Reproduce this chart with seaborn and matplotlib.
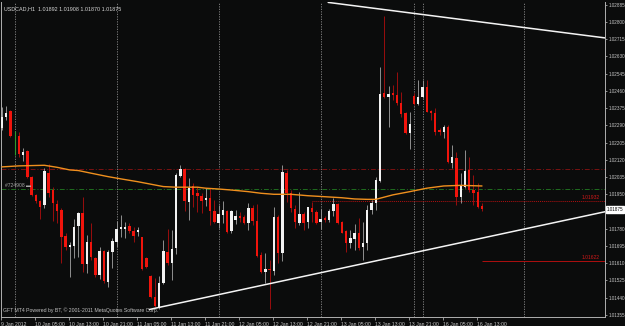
import numpy as np
import pandas as pd
import matplotlib
matplotlib.use("Agg")
import matplotlib.pyplot as plt
import matplotlib.transforms as mtrans
import seaborn as sns

# ---------------- data (USDCAD H1) ----------------
open_ = [1.02275, 1.02330, 1.02361, 1.02238, 1.02239, 1.02144, 1.02164, 1.02034, 1.01945, 1.01919,
         1.01897, 1.02057, 1.01971, 1.01902, 1.01873, 1.01745, 1.01692, 1.01695, 1.01794, 1.01856,
         1.01605, 1.01716, 1.01638, 1.01552, 1.01671, 1.01519, 1.01667, 1.01716, 1.01778, 1.01779,
         1.01794, 1.01771, 1.01765, 1.01738, 1.01635, 1.01547, 1.01445, 1.01396, 1.01511, 1.01667,
         1.01610, 1.01684, 1.02042, 1.02075, 1.01914, 1.01991, 1.01955, 1.01943, 1.01922, 1.01933,
         1.01869, 1.01810, 1.01848, 1.01869, 1.01771, 1.01823, 1.01845, 1.01840, 1.01807, 1.01881,
         1.01820, 1.01651, 1.01566, 1.01580, 1.01573, 1.01840, 1.01662, 1.02057, 1.01958, 1.01876,
         1.01810, 1.01851, 1.01815, 1.01884, 1.01861, 1.01815, 1.01833, 1.01823, 1.01868, 1.01902,
         1.01815, 1.01769, 1.01711, 1.01730, 1.01758, 1.01689, 1.01709, 1.01873, 1.01906, 1.02017,
         1.02448, 1.02431, 1.02448, 1.02440, 1.02399, 1.02349, 1.02251, 1.02436, 1.02395, 1.02428,
         1.02478, 1.02362, 1.02352, 1.02267, 1.02259, 1.02283, 1.02106, 1.02128, 1.01938, 1.01988,
         1.02070, 1.01971, 1.01963, 1.01892]
high = [1.02381, 1.02385, 1.02366, 1.02264, 1.02259, 1.02177, 1.02169, 1.02040, 1.01952, 1.01922,
        1.02078, 1.02100, 1.01988, 1.01922, 1.01883, 1.01759, 1.01716, 1.01828, 1.01864, 1.01935,
        1.01749, 1.01809, 1.01643, 1.01692, 1.01676, 1.01676, 1.01733, 1.01820, 1.01848, 1.01815,
        1.01807, 1.01789, 1.01790, 1.01741, 1.01640, 1.01552, 1.01537, 1.01547, 1.01725, 1.01778,
        1.01774, 1.02054, 1.02095, 1.02078, 1.02029, 1.02007, 1.01985, 1.01958, 1.01980, 1.01980,
        1.01922, 1.01897, 1.01919, 1.01873, 1.01873, 1.01873, 1.01864, 1.01848, 1.01906, 1.01897,
        1.01902, 1.01667, 1.01659, 1.01626, 1.01886, 1.01848, 1.02095, 1.02070, 1.01971, 1.01897,
        1.01963, 1.01864, 1.01889, 1.01914, 1.01873, 1.01877, 1.01843, 1.01877, 1.01932, 1.01909,
        1.01818, 1.01774, 1.01774, 1.01804, 1.01832, 1.01815, 1.01897, 1.01922, 1.02037, 1.02576,
        1.02829, 1.02484, 1.02489, 1.02553, 1.02456, 1.02357, 1.02357, 1.02448, 1.02514, 1.02514,
        1.02514, 1.02366, 1.02374, 1.02275, 1.02292, 1.02292, 1.02193, 1.02160, 1.02054, 1.02169,
        1.02133, 1.02045, 1.02004, 1.01908]
low = [1.02267, 1.02316, 1.02234, 1.02144, 1.02136, 1.02116, 1.02029, 1.01942, 1.01909, 1.01827,
       1.01881, 1.01938, 1.01820, 1.01810, 1.01611, 1.01676, 1.01544, 1.01636, 1.01643, 1.01569,
       1.01564, 1.01626, 1.01544, 1.01531, 1.01514, 1.01492, 1.01585, 1.01692, 1.01741, 1.01733,
       1.01758, 1.01716, 1.01745, 1.01577, 1.01585, 1.01437, 1.01396, 1.01383, 1.01508, 1.01602,
       1.01528, 1.01656, 1.02037, 1.01869, 1.01823, 1.01889, 1.01864, 1.01856, 1.01892, 1.01799,
       1.01807, 1.01783, 1.01810, 1.01761, 1.01761, 1.01804, 1.01815, 1.01804, 1.01774, 1.01799,
       1.01643, 1.01561, 1.01511, 1.01383, 1.01552, 1.01610, 1.01623, 1.01914, 1.01864, 1.01783,
       1.01799, 1.01774, 1.01783, 1.01815, 1.01804, 1.01779, 1.01815, 1.01815, 1.01843, 1.01804,
       1.01758, 1.01667, 1.01684, 1.01676, 1.01676, 1.01626, 1.01676, 1.01853, 1.01873, 1.02012,
       1.02423, 1.02283, 1.02415, 1.02390, 1.02333, 1.02247, 1.02172, 1.02390, 1.02390, 1.02423,
       1.02357, 1.02316, 1.02242, 1.02242, 1.02226, 1.02103, 1.02078, 1.01897, 1.01906, 1.01980,
       1.01963, 1.01897, 1.01881, 1.01870]
close = [1.02332, 1.02352, 1.02239, 1.02238, 1.02149, 1.02160, 1.02037, 1.01947, 1.01919, 1.01889,
         1.02065, 1.01955, 1.01906, 1.01869, 1.01741, 1.01689, 1.01702, 1.01790, 1.01856, 1.01607,
         1.01716, 1.01643, 1.01552, 1.01672, 1.01524, 1.01667, 1.01720, 1.01778, 1.01787, 1.01790,
         1.01771, 1.01746, 1.01774, 1.01582, 1.01590, 1.01445, 1.01399, 1.01511, 1.01671, 1.01610,
         1.01680, 1.02045, 1.02075, 1.01919, 1.01983, 1.01947, 1.01943, 1.01917, 1.01932, 1.01869,
         1.01812, 1.01853, 1.01873, 1.01765, 1.01869, 1.01843, 1.01835, 1.01810, 1.01881, 1.01820,
         1.01646, 1.01569, 1.01580, 1.01575, 1.01840, 1.01662, 1.02062, 1.01955, 1.01881, 1.01815,
         1.01851, 1.01810, 1.01886, 1.01864, 1.01810, 1.01830, 1.01823, 1.01869, 1.01901, 1.01807,
         1.01761, 1.01711, 1.01733, 1.01758, 1.01684, 1.01709, 1.01873, 1.01909, 1.02021, 1.02445,
         1.02428, 1.02443, 1.02438, 1.02399, 1.02346, 1.02251, 1.02297, 1.02395, 1.02431, 1.02481,
         1.02357, 1.02352, 1.02259, 1.02259, 1.02283, 1.02111, 1.02133, 1.01938, 1.01991, 1.02065,
         1.01971, 1.01958, 1.01889, 1.01875]

# moving average readings (bar index, price)
ma_bar = [0, 4, 10, 13, 16, 18, 21, 25, 28, 32, 36, 38, 41, 46, 48, 51, 54, 58, 61, 64, 68,
          72, 76, 80, 83, 86, 88, 92, 96, 100, 104, 108, 113]
ma_val = [1.02085, 1.02090, 1.02093, 1.02083, 1.02070, 1.02067, 1.02054, 1.02037, 1.02026,
          1.02012, 1.01996, 1.01988, 1.01985, 1.01985, 1.01980, 1.01976, 1.01971, 1.01963,
          1.01955, 1.01950, 1.01950, 1.01943, 1.01938, 1.01933, 1.01927, 1.01925, 1.01925,
          1.01947, 1.01963, 1.01980, 1.01991, 1.01994, 1.01991]

x_labels = ["9 Jan 2012", "10 Jan 05:00", "10 Jan 13:00", "10 Jan 21:00", "11 Jan 05:00",
            "11 Jan 13:00", "11 Jan 21:00", "12 Jan 05:00", "12 Jan 13:00", "12 Jan 21:00",
            "13 Jan 05:00", "13 Jan 13:00", "13 Jan 21:00", "16 Jan 05:00", "16 Jan 13:00"]
y_ticks = [1.02885, 1.02800, 1.02715, 1.02630, 1.02545, 1.02460, 1.02375, 1.02290, 1.02205,
           1.02120, 1.02035, 1.01950, 1.01865, 1.01780, 1.01695, 1.01610, 1.01525, 1.01440,
           1.01355]
day_separators = [3, 27, 51, 75, 97, 99, 123]

title_text = "USDCAD,H1  1.01892 1.01908 1.01870 1.01875"
order_label = "#724908"
stop_level = 1.02073
order_level = 1.01974
alert_hi = 1.01919
alert_hi_label = "1.01932"
alert_lo = 1.01622
alert_lo_label = "1.01622"
last_price = 1.01875
trend_up = ([34.7, 141.95], [1.01382, 1.01864])
trend_down = ([76.8, 141.95], [1.02896, 1.02721])

# ---------------- style ----------------
BG = "#0b0c0c"
FG = "#c8c8c8"
sns.set_theme(style="dark")
plt.rcParams["font.family"] = ["Liberation Sans", "DejaVu Sans"]
plt.rcParams["axes.facecolor"] = BG
plt.rcParams["figure.facecolor"] = BG

fig = plt.figure(figsize=(6.25, 3.26), dpi=100)
ax = fig.add_axes([1 / 625, 9 / 326, 604 / 625, 315 / 326])
ax.set_facecolor(BG)

df = pd.DataFrame({"o": open_, "h": high, "l": low, "c": close})
df["bar"] = np.arange(len(df))
up = df["c"] > df["o"]
dn = df["c"] < df["o"]
eq = df["c"] == df["o"]

# separators
for b in day_separators:
    ax.axvline(b, color="#8a8a8a", lw=0.6, ls=(0, (1.5, 1.5)), zorder=1)

# horizontal levels
ax.axhline(stop_level, color="#7a1212", lw=0.7, ls=(0, (5, 2, 1, 2)), zorder=1)
ax.axhline(order_level, color="#1f6e1f", lw=0.7, ls=(0, (5, 2, 1, 2)), zorder=1)
ax.hlines(alert_hi, 73, 141.95, color="#b01010", lw=0.7, ls=(0, (1, 1)), zorder=1)
ax.hlines(alert_lo, 113, 141.95, color="#b01010", lw=0.7, zorder=1)
ax.text(140.8, alert_hi + 0.00004, alert_hi_label, color="#d01818", fontsize=3.6,
        ha="right", va="bottom")
ax.text(140.8, alert_lo + 0.00004, alert_lo_label, color="#d01818", fontsize=3.6,
        ha="right", va="bottom")

# wicks
ax.vlines(df.loc[up, "bar"], df.loc[up, "l"], df.loc[up, "h"], color="#909090", lw=0.7, zorder=2)
ax.vlines(df.loc[dn, "bar"], df.loc[dn, "l"], df.loc[dn, "h"], color="#9a0e0e", lw=0.7, zorder=2)
ax.vlines(df.loc[eq, "bar"], df.loc[eq, "l"], df.loc[eq, "h"], color="#2c9a2c", lw=0.8, zorder=2)

# bodies
body_lo = df[["o", "c"]].min(axis=1)
body_h = (df["c"] - df["o"]).abs().clip(lower=0.00003)
ax.bar(df.loc[up, "bar"], body_h[up], bottom=body_lo[up], width=0.58, color="#f2f2f2",
       linewidth=0, zorder=3)
ax.bar(df.loc[dn, "bar"], body_h[dn], bottom=body_lo[dn], width=0.58, color="#f0140c",
       linewidth=0, zorder=3)

# moving average
sns.lineplot(x=ma_bar, y=ma_val, ax=ax, color="#f0901e", lw=1.0, zorder=4)

# trend lines
ax.plot(trend_up[0], trend_up[1], color="#f4f4f4", lw=1.1, zorder=5)
ax.plot(trend_down[0], trend_down[1], color="#f4f4f4", lw=1.1, zorder=5)

# axes limits
ax.set_xlim(-0.165, 141.95)
ax.set_ylim(1.01345, 1.02898)

# x ticks
ax.set_xticks([8 * k - 0.2 for k in range(len(x_labels))])
ax.set_xticklabels(x_labels, ha="left")
off = mtrans.ScaledTranslation(2 / 100, 0, fig.dpi_scale_trans)
for lab in ax.get_xticklabels():
    lab.set_transform(lab.get_transform() + off)
ax.tick_params(axis="x", bottom=True, colors=FG, length=2.5, width=0.5, labelsize=3.7, pad=1)

# y ticks (the label under the current-price box is hidden by it)
ax.yaxis.tick_right()
ax.set_yticks(y_ticks)
ax.set_yticklabels(["" if abs(v - last_price) < 0.0002 else f"{v:.5f}" for v in y_ticks])
ax.tick_params(axis="y", right=True, left=False, colors=FG, length=1.5, width=0.5,
               labelsize=3.3, pad=0.8)
ax.set_xlabel("")
ax.set_ylabel("")
ax.grid(False)

for s in ["left", "right", "bottom"]:
    ax.spines[s].set_visible(True)
    ax.spines[s].set_color("#b0b0b0")
    ax.spines[s].set_linewidth(0.7)
ax.spines["top"].set_visible(False)

# current price box
bt = mtrans.blended_transform_factory(ax.transAxes, ax.transData)
ax.text(1.003, last_price, "1.01875", transform=bt, ha="left", va="center", fontsize=3.3,
        color="black", clip_on=False, zorder=10,
        bbox=dict(boxstyle="square,pad=0.2", fc="white", ec="white"))

# texts
ax.text(0.005, 0.985, title_text, transform=ax.transAxes, color="#d8d8d8", fontsize=3.9,
        ha="left", va="top")
ax.text(0.8, 1.01994, order_label + " ▬", color="#a8a8a8", fontsize=3.6, ha="left",
        va="center", zorder=8, family=["Liberation Sans", "DejaVu Sans"])
ax.text(0.004, 0.012, "GFT MT4 Powered by BT, © 2001-2011 MetaQuotes Software Corp.",
        transform=ax.transAxes, color="#c0c0c0", fontsize=3.7, ha="left", va="bottom")

fig.savefig("out.png", dpi=100, facecolor=BG)
